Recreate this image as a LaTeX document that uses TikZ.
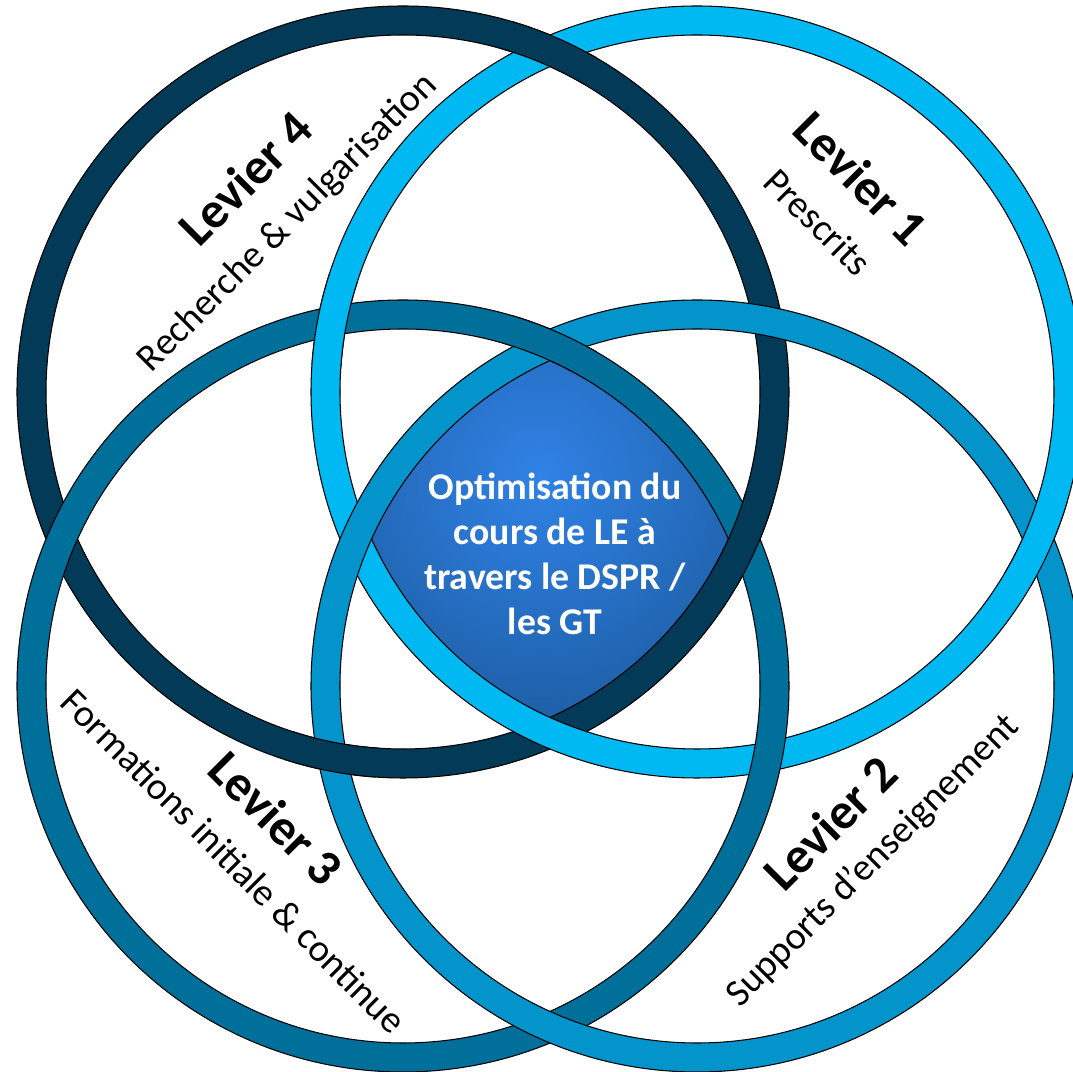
\documentclass[tikz,border=0pt]{standalone}
\usepackage{fontspec}
\setmainfont{Carlito}
\usepackage{tikz}
\definecolor{lvDark}{RGB}{3, 58, 87}
\definecolor{lvLight}{RGB}{0, 185, 242}
\definecolor{lvSteel}{RGB}{0, 111, 153}
\definecolor{lvMid}{RGB}{4, 148, 204}
\definecolor{lensBright}{RGB}{48, 130, 230}
\definecolor{lensDeep}{RGB}{10, 56, 96}
\tikzset{
    ring/.style={
        even odd rule,
        draw=black,
        line width=0.6pt
    },
    title/.style={
        font=\bfseries\fontsize{29}{32}\selectfont,
        inner sep=0pt
    },
    subtitle/.style={
        font=\fontsize{21.8}{26}\selectfont,
        inner sep=0pt
    },
    core/.style={
        font=\bfseries\fontsize{21.5}{25.6}\selectfont,
        text=white,
        align=center,
        inner sep=0pt
    }
}

\begin{document}
\begin{tikzpicture}[x=0.2mm, y=0.2mm]
    \useasboundingbox (0,0) rectangle (1073,1072);
    \clip (0,0) rectangle (1073,1072);

    % ring centres
    \coordinate (c4) at (403,680);
    \coordinate (c1) at (697,680);
    \coordinate (c3) at (403,386);
    \coordinate (c2) at (697,386);

    % centre lens
    \begin{scope}
        \clip (c4) circle (357);
        \clip (c1) circle (357);
        \clip (c3) circle (357);
        \clip (c2) circle (357);
        \shade[inner color=lensBright, outer color=lensDeep] (540,595) circle (520);
    \end{scope}

    % rings
    \path[ring, fill=lvDark] (c4) circle (386) (c4) circle (357);
    \path[ring, fill=lvLight] (c1) circle (386) (c1) circle (357);
    \path[ring, fill=lvSteel] (c3) circle (386) (c3) circle (357);
    \path[ring, fill=lvMid] (c2) circle (386) (c2) circle (357);

    % weave: bring a ring back on top at its crossings
    \foreach \x/\y/\c/\col in {550/1022/c4/lvDark, 550/728/c3/lvSteel,
                               745/533/c4/lvDark, 1039/533/c1/lvLight,
                               332/315/c4/lvDark, 332/751/c1/lvLight}{
        \begin{scope}
            \clip (\x,\y) circle (48);
            \path[ring, fill=\col] (\c) circle (386) (\c) circle (357);
        \end{scope}
    }

    % Levier 4
    \node[title, rotate=45] (t4) at (245,894) {Levier 4};
    \node[subtitle, rotate=45] (s4) at (288,849) {Recherche \& vulgarisation};

    % Levier 1
    \node[title, rotate=-45] (t1) at (861,894) {Levier 1};
    \node[subtitle, rotate=-45] (s1) at (818,850) {Prescrits};

    % Levier 3
    \node[title, rotate=-45] (t3) at (276,254) {Levier 3};
    \node[subtitle, rotate=-45] (s3) at (234,211) {Formations initiale \& continue};

    % Levier 2
    \node[title, rotate=45] (t2) at (830,249) {Levier 2};
    \node[subtitle, rotate=45] (s2) at (873,211) {Supports d’enseignement};

    % centre text
    \node[core] (goal) at (555,518) {Optimisation du\\cours de LE à\\travers le DSPR /\\les GT};
\end{tikzpicture}
\end{document}
